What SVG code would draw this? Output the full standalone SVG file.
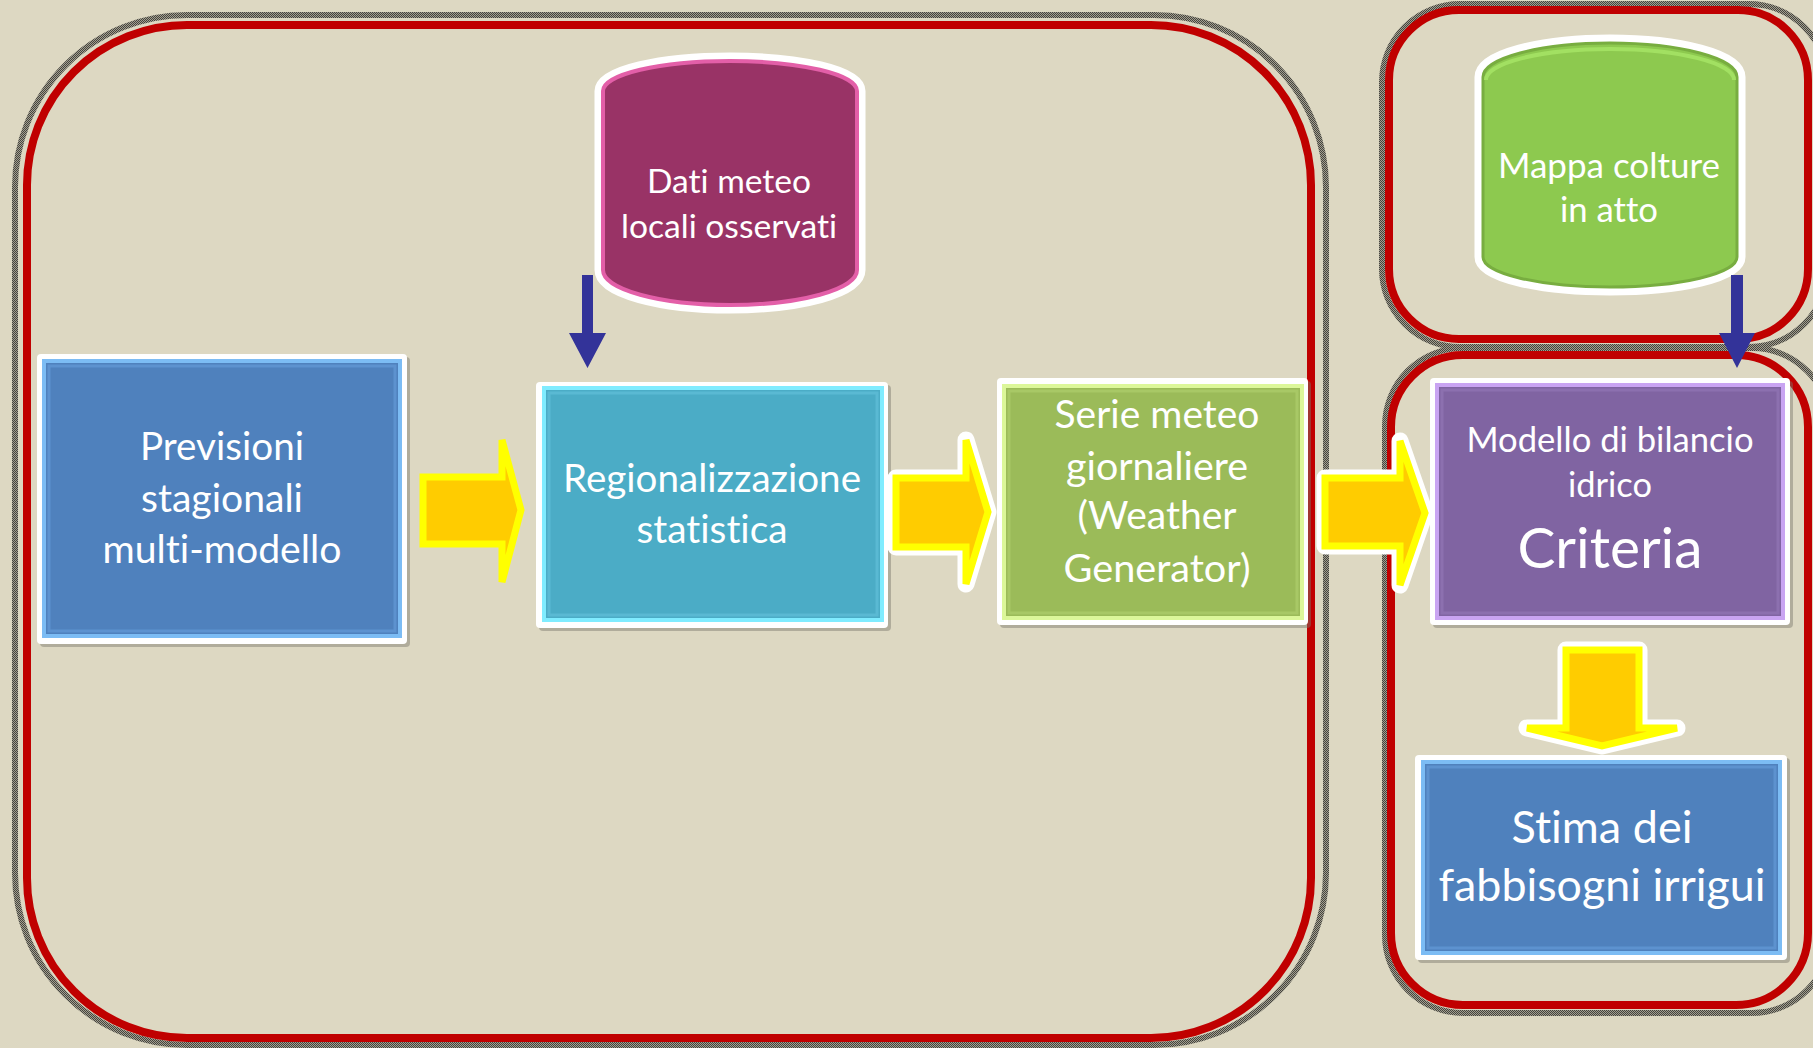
<svg xmlns="http://www.w3.org/2000/svg" width="1813" height="1048" viewBox="0 0 1813 1048">
<defs>
<pattern id="hatch" width="4" height="4" patternUnits="userSpaceOnUse">
<rect width="4" height="4" fill="#a29f90"/>
<path d="M0,0h1v1h-1zM2,0h1v1h-1zM1,1h1v1h-1zM3,1h1v1h-1zM0,2h1v1h-1zM2,2h1v1h-1zM1,3h1v1h-1zM3,3h1v1h-1z" fill="#45443e"/>
</pattern>
<style>
.fshadow{fill:none;stroke:url(#hatch);stroke-width:6}
.fred{fill:none;stroke:#c00000;stroke-width:8}
.border{fill:#ffffff}
.shadow{fill:#7a786c;opacity:0.45}
.lbl{font-family:Lato,"Liberation Sans",sans-serif;fill:#ffffff;text-anchor:middle;font-variant-ligatures:none;font-feature-settings:"liga" 0,"clig" 0}
.ya{fill:#ffcc00;stroke:#ffff00;stroke-width:7;stroke-linejoin:miter}
.wa{fill:none;stroke:#ffffff;stroke-width:17;stroke-linejoin:round}
.ba{fill:#333399}
</style>
</defs>
<rect x="0" y="0" width="1813" height="1048" fill="#ddd8c2"/>

<g id="frames">
<rect class="fshadow" x="15" y="15" width="1311" height="1030" rx="172"/>
<rect class="fred" x="27" y="25" width="1284" height="1013" rx="160"/>
<rect class="fshadow" x="1382" y="4" width="445" height="343" rx="78"/>
<rect class="fred" x="1389" y="10" width="419" height="329" rx="70"/>
<rect class="fshadow" x="1385" y="348" width="445" height="665" rx="78"/>
<rect class="fred" x="1391" y="355" width="417" height="650" rx="72"/>
</g>

<g id="previsioni">
<rect class="shadow" x="40" y="357" width="370" height="290" rx="4"/>
<rect class="border" x="37" y="354" width="370" height="290" rx="4"/>
<rect x="44" y="361" width="356" height="275" fill="#4f81bd" stroke="#7cbcf4" stroke-width="4"/>
<rect x="49" y="366" width="346" height="265" fill="none" stroke="#5d92cf" stroke-width="3"/>
<text class="lbl" font-size="38" x="222" y="460" textLength="164" lengthAdjust="spacingAndGlyphs">Previsioni</text>
<text class="lbl" font-size="38" x="222" y="512" textLength="162" lengthAdjust="spacingAndGlyphs">stagionali</text>
<text class="lbl" font-size="38" x="222" y="563" textLength="239" lengthAdjust="spacingAndGlyphs">multi-modello</text>
</g>

<g id="regionalizzazione">
<rect class="shadow" x="539" y="385" width="352" height="246" rx="4"/>
<rect class="border" x="536" y="382" width="352" height="246" rx="4"/>
<rect x="544" y="388" width="338" height="232" fill="#4bacc6" stroke="#80ecff" stroke-width="4"/>
<rect x="549" y="393" width="328" height="222" fill="none" stroke="#5ab9d3" stroke-width="3"/>
<text class="lbl" font-size="38" x="712" y="492" textLength="298" lengthAdjust="spacingAndGlyphs">Regionalizzazione</text>
<text class="lbl" font-size="38" x="712" y="543" textLength="151" lengthAdjust="spacingAndGlyphs">statistica</text>
</g>

<g id="dati-meteo">
<path d="M603,91 A127,30 0 0 1 857,91 V270 A127,35 0 0 1 603,270 Z" fill="none" stroke="#ffffff" stroke-width="17"/>
<path d="M603,91 A127,30 0 0 1 857,91 V270 A127,35 0 0 1 603,270 Z" fill="#993366" stroke="#e35fa8" stroke-width="4"/>
<text class="lbl" font-size="33" x="729" y="193" textLength="164" lengthAdjust="spacingAndGlyphs">Dati meteo</text>
<text class="lbl" font-size="33" x="729" y="238" textLength="216" lengthAdjust="spacingAndGlyphs">locali osservati</text>
</g>

<g id="serie-meteo">
<rect class="shadow" x="1000" y="381" width="311" height="247" rx="4"/>
<rect class="border" x="997" y="378" width="311" height="247" rx="4"/>
<rect x="1004" y="386" width="298" height="232" fill="#9bbb59" stroke="#dcf79a" stroke-width="4"/>
<rect x="1009" y="391" width="288" height="222" fill="none" stroke="#a8c866" stroke-width="3"/>
<text class="lbl" font-size="38" x="1157" y="428" textLength="205" lengthAdjust="spacingAndGlyphs">Serie meteo</text>
<text class="lbl" font-size="38" x="1157" y="480" textLength="182" lengthAdjust="spacingAndGlyphs">giornaliere</text>
<text class="lbl" font-size="38" x="1157" y="529" textLength="159" lengthAdjust="spacingAndGlyphs">(Weather</text>
<text class="lbl" font-size="38" x="1157" y="582" textLength="187" lengthAdjust="spacingAndGlyphs">Generator)</text>
</g>

<g id="mappa-colture">
<path d="M1483,77 A127,34 0 0 1 1737,77 V257 A127,30 0 0 1 1483,257 Z" fill="none" stroke="#ffffff" stroke-width="17"/>
<path d="M1483,77 A127,34 0 0 1 1737,77 V257 A127,30 0 0 1 1483,257 Z" fill="#8dc94f" stroke="#78ad40" stroke-width="3"/>
<path d="M1486,80 A124,31 0 0 1 1734,80" fill="none" stroke="#a2e062" stroke-width="4"/>
<text class="lbl" font-size="34" x="1609" y="178" textLength="222" lengthAdjust="spacingAndGlyphs">Mappa colture</text>
<text class="lbl" font-size="34" x="1609" y="222" textLength="98" lengthAdjust="spacingAndGlyphs">in atto</text>
</g>

<g id="criteria">
<rect class="shadow" x="1433" y="381" width="360" height="247" rx="4"/>
<rect class="border" x="1430" y="378" width="360" height="247" rx="4"/>
<rect x="1437" y="385" width="346" height="233" fill="#8064a2" stroke="#c9a4f2" stroke-width="4"/>
<rect x="1442" y="390" width="336" height="223" fill="none" stroke="#8c70af" stroke-width="3"/>
<text class="lbl" font-size="34" x="1610" y="452" textLength="287" lengthAdjust="spacingAndGlyphs">Modello di bilancio</text>
<text class="lbl" font-size="34" x="1610" y="497" textLength="84" lengthAdjust="spacingAndGlyphs">idrico</text>
<text class="lbl" font-size="56" x="1610" y="568" textLength="185" lengthAdjust="spacingAndGlyphs">Criteria</text>
</g>

<g id="stima">
<rect class="shadow" x="1418" y="758" width="372" height="205" rx="4"/>
<rect class="border" x="1415" y="755" width="372" height="205" rx="4"/>
<rect x="1423" y="762" width="357" height="191" fill="#4f81bd" stroke="#7cbcf4" stroke-width="4"/>
<rect x="1428" y="767" width="347" height="181" fill="none" stroke="#5d92cf" stroke-width="3"/>
<text class="lbl" font-size="44" x="1602" y="843" textLength="181" lengthAdjust="spacingAndGlyphs">Stima dei</text>
<text class="lbl" font-size="44" x="1602" y="901" textLength="327" lengthAdjust="spacingAndGlyphs">fabbisogni irrigui</text>
</g>

<g id="connectors">
<path class="ya" d="M423,477 H502 V440 L521,510 L502,582 V544 H423 Z"/>
<path class="wa" d="M896,478 H966 V440 L988,512 L966,584 V547 H896 Z"/>
<path class="ya" d="M896,478 H966 V440 L988,512 L966,584 V547 H896 Z"/>
<path class="wa" d="M1325,478 H1400 V441 L1425,513 L1400,585 V546 H1325 Z"/>
<path class="ya" d="M1325,478 H1400 V441 L1425,513 L1400,585 V546 H1325 Z"/>
<path class="wa" d="M1566,650 H1639 V728 H1677 L1602,746 L1527,728 H1566 Z"/>
<path class="ya" d="M1566,650 H1639 V728 H1677 L1602,746 L1527,728 H1566 Z"/>
<polygon class="ba" points="582,275 593,275 593,333 606,333 587.5,368 569,333 582,333"/>
<polygon class="ba" points="1731,275 1743,275 1743,333 1755,333 1737,368 1719,333 1731,333"/>
</g>
</svg>
